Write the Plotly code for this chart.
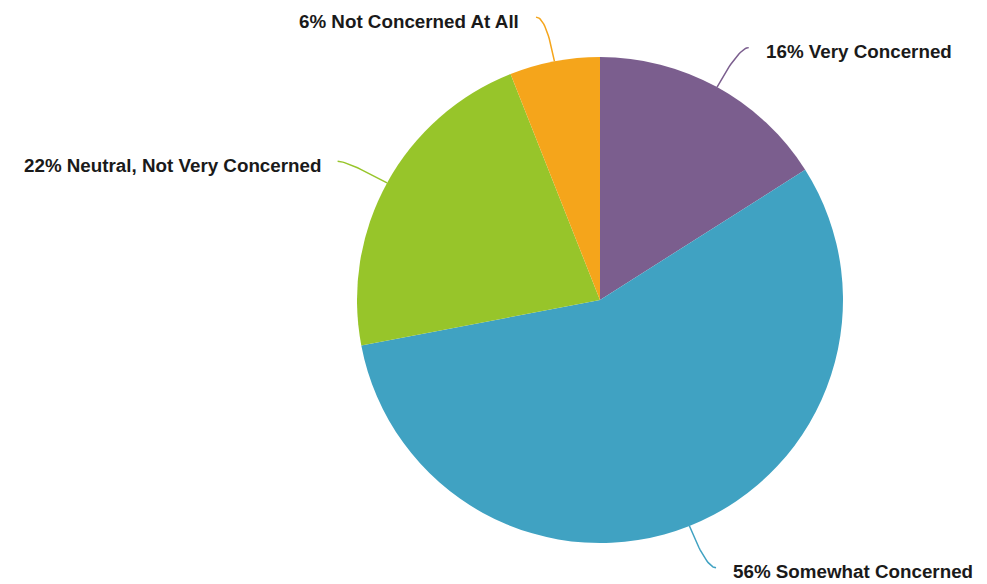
import math
import plotly.graph_objects as go

categories = ["Very Concerned", "Somewhat Concerned", "Neutral, Not Very Concerned", "Not Concerned At All"]
values = [16, 56, 22, 6]
colors = ["#7B5E8E", "#40A2C2", "#97C52A", "#F5A51B"]

W, H = 987, 584
OFF = 8  # page body margin offset
cx, cy, R = 600 - OFF, 300 - OFF, 243

fig = go.Figure()
fig.add_trace(go.Pie(
    labels=categories, values=values, sort=False, direction="clockwise", rotation=0,
    marker=dict(colors=colors, line=dict(width=0)),
    textinfo="none", hoverinfo="label+percent", showlegend=False,
    domain=dict(x=[(cx - R) / W, (cx + R) / W], y=[1 - (cy + R) / H, 1 - (cy - R) / H]),
))

total = sum(values)
cum = 0
L, HOFF, GAP = 45, 10, 15
for cat, v, col in zip(categories, values, colors):
    mid = (cum + v / 2) / total * 2 * math.pi
    cum += v
    ux, uy = math.sin(mid), -math.cos(mid)
    p0 = (cx + R * ux, cy + R * uy)
    p1 = (cx + (R + L) * ux, cy + (R + L) * uy)
    side = 1 if ux >= 0 else -1
    p2 = (p1[0] + side * HOFF, p1[1])
    xs, ys = [], []
    for i in range(21):
        t = i / 20
        xs.append((1 - t) ** 2 * p0[0] + 2 * (1 - t) * t * p1[0] + t * t * p2[0])
        ys.append((1 - t) ** 2 * p0[1] + 2 * (1 - t) * t * p1[1] + t * t * p2[1])
    fig.add_trace(go.Scatter(x=xs, y=ys, mode="lines", line=dict(color=col, width=1.5),
                             hoverinfo="skip", showlegend=False))
    fig.add_annotation(
        x=p2[0] + side * GAP, y=p2[1] + 4, xref="x", yref="y",
        text=f"<b>{round(v / total * 100)}% {cat}</b>", showarrow=False,
        xanchor="left" if side > 0 else "right", yanchor="middle",
        font=dict(family="Liberation Sans, Arial, sans-serif", size=18.8, color="#1a1a1a"),
    )

fig.update_layout(
    width=W, height=H, margin=dict(l=0, r=0, t=0, b=0),
    paper_bgcolor="white", plot_bgcolor="rgba(0,0,0,0)",
    xaxis=dict(range=[0, W], visible=False, fixedrange=True),
    yaxis=dict(range=[H, 0], visible=False, fixedrange=True),
)
fig.write_html("out.html")
